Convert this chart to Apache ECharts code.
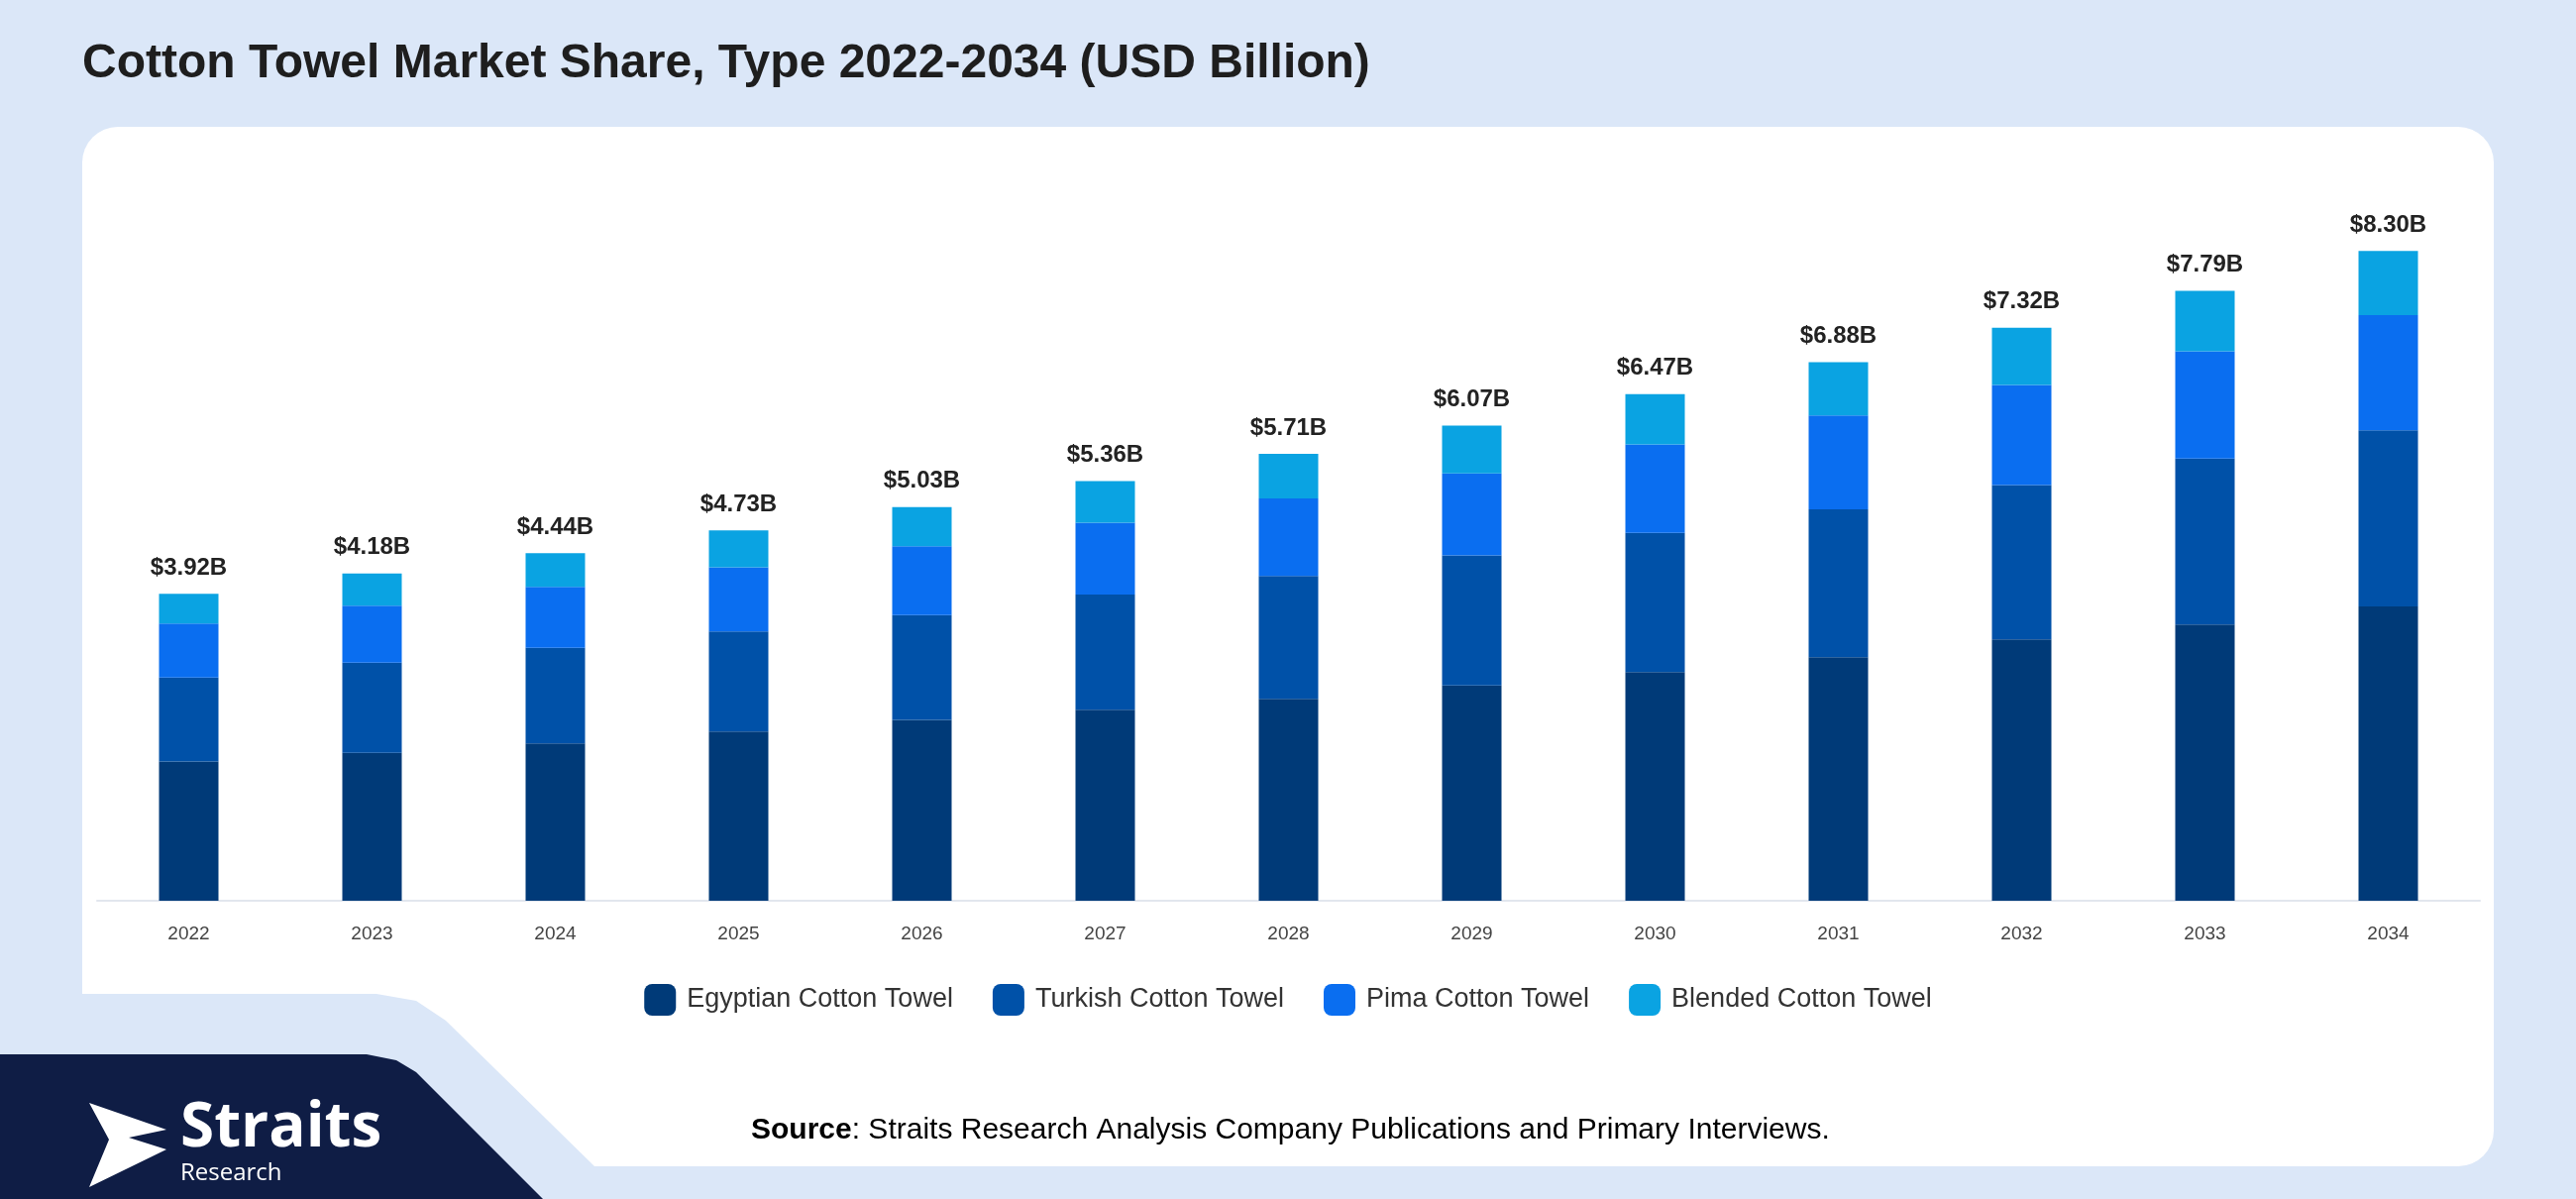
<!DOCTYPE html>
<html><head><meta charset="utf-8">
<script src="https://cdn.jsdelivr.net/npm/echarts@6/dist/echarts.min.js"></script>
<style>html,body{margin:0;padding:0;background:#dbe7f8}#c{width:2600px;height:1210px}</style>
</head><body><div id="c"></div>
<script>
const years = ['2022','2023','2024','2025','2026','2027','2028','2029','2030','2031','2032','2033','2034'];
const egyptian = [1.78,1.89,2.01,2.16,2.31,2.44,2.58,2.75,2.92,3.11,3.34,3.53,3.76];
const turkish  = [1.07,1.15,1.22,1.28,1.34,1.47,1.57,1.66,1.78,1.89,1.97,2.12,2.25];
const pima     = [0.69,0.73,0.78,0.82,0.88,0.92,0.99,1.05,1.13,1.20,1.28,1.37,1.47];
const blended  = [0.38,0.41,0.43,0.47,0.50,0.53,0.57,0.61,0.64,0.68,0.73,0.77,0.82];
const totals   = ['$3.92B','$4.18B','$4.44B','$4.73B','$5.03B','$5.36B','$5.71B','$6.07B','$6.47B','$6.88B','$7.32B','$7.79B','$8.30B'];

const names = ['Egyptian Cotton Towel','Turkish Cotton Towel','Pima Cotton Towel','Blended Cotton Towel'];
const colors = ['#003a78','#0051a8','#0a6ef0','#0aa3e2'];
const data = [egyptian, turkish, pima, blended];
const F = '"Liberation Sans", Arial, sans-serif';

const series = data.map((d,i)=>({
  name:names[i], type:'bar', stack:'t', data:d, barWidth:60,
  itemStyle:{color:colors[i]},
  label: i===3 ? {show:true, position:'top', distance:14, formatter:p=>totals[p.dataIndex],
    fontFamily:F, fontWeight:'bold', fontSize:24, color:'#222'} : {show:false}
}));

const chart = echarts.init(document.getElementById('c'));
chart.setOption({
  backgroundColor:'#dbe7f8',
  animation:false,
  title:{text:'Cotton Towel Market Share, Type 2022-2034 (USD Billion)', left:78, top:36,
    textStyle:{fontFamily:F, fontWeight:'bold', fontSize:48, color:'#1e1e1e'}},
  graphic:[
    {type:'rect', shape:{x:83,y:128,width:2434,height:1049,r:36}, style:{fill:'#ffffff'}, z:-10},
    {type:'polygon', shape:{points:[[83,1003],[380,1003],[420,1010],[450,1030],[600,1177],[83,1177]]}, style:{fill:'#dbe7f8'}, z:-9},
    {type:'polygon', shape:{points:[[0,1064],[370,1064],[400,1070],[420,1082],[548,1210],[0,1210]]}, style:{fill:'#0f1d45'}, z:-8},
    {type:'polygon', shape:{points:[[90,1113],[168,1140],[130,1148],[168,1160],[90,1198],[110,1150]]}, style:{fill:'#ffffff'}, z:-7},
    {type:'text', left:182, top:1108, style:{text:'Straits', fill:'#ffffff', font:'bold 62px "Open Sans"'}, z:-7},
    {type:'text', left:182, top:1172, style:{text:'Research', fill:'#ffffff', font:'24px "Open Sans"'}, z:-7},
    {type:'text', left:758, top:1126, style:{rich:{b:{fontFamily:F,fontWeight:'bold',fontSize:30,color:'#111'},n:{fontFamily:F,fontSize:30,color:'#111'}},
      text:'{b|Source}{n|: Straits Research Analysis Company Publications and Primary Interviews.}'}}
  ],
  legend:{bottom:180, left:'center', itemWidth:32, itemHeight:32, itemGap:40, icon:'roundRect',
    textStyle:{fontFamily:F, fontSize:27, color:'#333', padding:[0,0,0,6]}, data:names},
  grid:{left:98, right:97, top:119, bottom:301},
  xAxis:{type:'category', data:years, axisTick:{show:false},
    axisLine:{lineStyle:{color:'#e2e6ee', width:2}},
    axisLabel:{margin:24, fontFamily:F, fontSize:19, color:'#444'}},
  yAxis:{type:'value', min:0, max:10, show:false, splitLine:{show:false}},
  series
});
</script></body></html>
